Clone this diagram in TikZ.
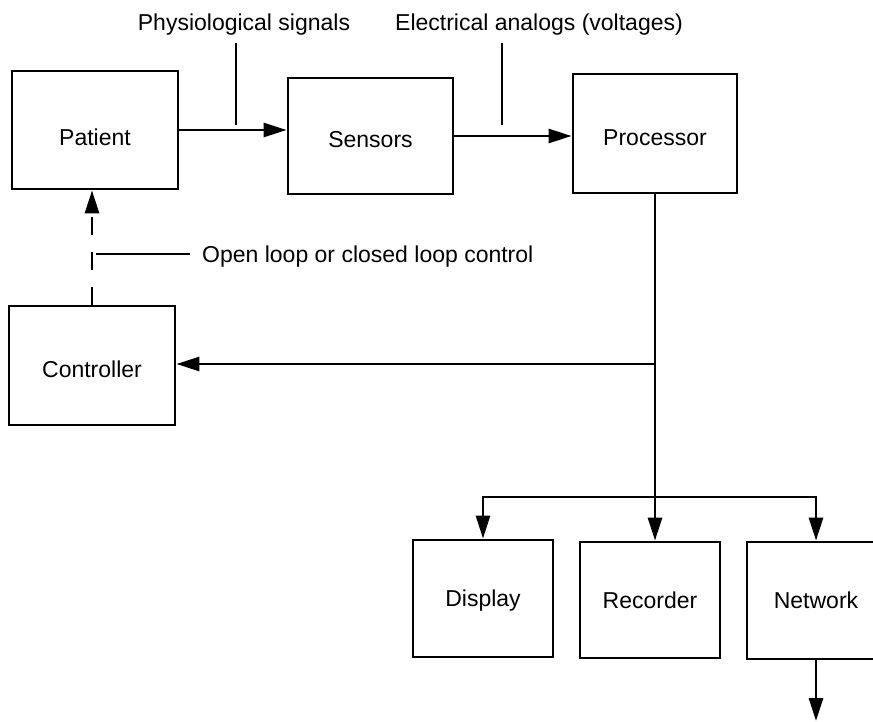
\documentclass[tikz,border=0pt]{standalone}
\usepackage{fontspec}
\setmainfont{Liberation Sans}
\usetikzlibrary{arrows.meta,calc}
\begin{document}
\begin{tikzpicture}[x=1pt,y=-1pt,
  txt/.style={font=\fontsize{23}{27}\selectfont},
  box/.style={draw, line width=2.8pt, inner sep=0pt, txt, text height=16pt, text depth=0pt},
  lowtext/.style={text height=24pt},
  conn/.style={line width=2.8pt},
  arr/.style={conn, -{Triangle[length=23pt,width=14pt]}},
  lbl/.style={txt, inner sep=0pt}]
\useasboundingbox (0,0) rectangle (873,722);
\clip (0,0) rectangle (873,722);
% boxes
\node[box, text height=32pt, minimum width=166pt, minimum height=118pt] (patient) at (95,130) {Patient};
\node[box, lowtext, minimum width=165pt, minimum height=116pt] (sensors) at (370.5,136) {Sensors};
\node[box, lowtext, minimum width=164pt, minimum height=119pt] (processor) at (655,133.5) {Processor};
\node[box, lowtext, minimum width=166pt, minimum height=119pt] (controller) at (92,365.5) {Controller};
\node[box, minimum width=140pt, minimum height=117pt] (display) at (483,598.5) {Display};
\node[box, minimum width=140pt, minimum height=116pt] (recorder) at (650,600) {Recorder};
\node[box, minimum width=138pt, minimum height=117pt] (network) at (816,600.5) {Network};
% labels
\node[lbl, anchor=base] (phys) at (244,31) {Physiological signals};
\node[lbl, anchor=base] (elec) at (539,31) {Electrical analogs (voltages)};
\node[lbl, anchor=base west] (loop) at (202,262) {Open loop or closed loop control};
% label leaders
\coordinate (t1) at (236,43);
\coordinate (t2) at (502,43);
\coordinate (t3) at (96,254);
\draw[conn] (t1) -- ++(0,82);
\draw[conn] (t2) -- ++(0,82);
\draw[conn, line width=2.2pt] (t3) -- (t3 -| {$(loop.west)+(-12,0)$});
% main flow
\draw[arr] (patient.east) -- (patient.east -| sensors.west);
\draw[arr] (sensors.east) -- (sensors.east -| processor.west);
\draw[conn, dash pattern=on 18pt off 17pt, -{Triangle[length=23pt,width=14pt]}]
  (controller.north) -- (controller.north |- patient.south);
% processor distribution
\coordinate (j1) at ($(processor.south |- 0,364)$);
\coordinate (j2) at ($(processor.south |- 0,497)$);
\draw[arr] (processor.south) -- (processor.south |- recorder.north);
\draw[arr] (j1) -- (j1 -| controller.east);
\draw[arr] (j2) -| (display.north);
\draw[arr] (j2) -| (network.north);
\coordinate (nout) at (816,721);
\draw[arr] (network.south) -- (network.south |- nout);
\end{tikzpicture}
\end{document}
